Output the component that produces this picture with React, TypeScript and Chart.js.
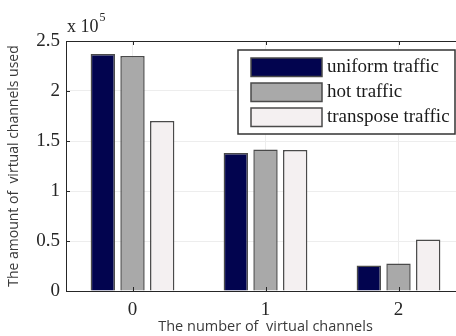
import React, { useEffect, useRef } from "react";
import { Chart, registerables } from "chart.js";

Chart.register(...registerables);

const categories = ["0", "1", "2"];
const uniformTraffic = [237000, 138000, 25500];
const hotTraffic = [235000, 141500, 27500];
const transposeTraffic = [170000, 141000, 51500];
const seriesNames = ["uniform traffic", "hot traffic", "transpose traffic"];
const seriesColors = ["#02044f", "#a9a9a9", "#f4f0f1"];
const yTicks = [0, 50000, 100000, 150000, 200000, 250000];

const SERIF = "'Liberation Serif', 'Times New Roman', serif";
const SANS = "'Open Sans', 'DejaVu Sans', sans-serif";

const framePlugin = {
  id: "frame",
  afterDraw(chart: any) {
    const ctx = chart.ctx;
    const { left, right, top, bottom } = chart.chartArea;
    ctx.save();
    ctx.strokeStyle = "#262626";
    ctx.lineWidth = 1;
    ctx.beginPath();
    ctx.moveTo(left, top + 0.5);
    ctx.lineTo(right, top + 0.5);
    ctx.stroke();
    const xs = chart.scales.x;
    categories.forEach((_, i) => {
      const px = Math.round(xs.getPixelForValue(i)) + 0.5;
      ctx.beginPath();
      ctx.moveTo(px, top);
      ctx.lineTo(px, top + 4);
      ctx.moveTo(px, bottom);
      ctx.lineTo(px, bottom - 4);
      ctx.stroke();
    });
    const ys = chart.scales.y;
    yTicks.forEach((v) => {
      const py = Math.round(ys.getPixelForValue(v)) + 0.5;
      ctx.beginPath();
      ctx.moveTo(left, py);
      ctx.lineTo(left + 4, py);
      ctx.stroke();
    });
    // exponent label
    ctx.fillStyle = "#262626";
    ctx.textBaseline = "alphabetic";
    ctx.textAlign = "left";
    ctx.font = `18px ${SERIF}`;
    ctx.fillText("x 10", 67, 32);
    const w = ctx.measureText("x 10").width;
    ctx.font = `12px ${SERIF}`;
    ctx.fillText("5", 67 + w + 1, 21);

    // legend
    const bx = 238, by = 50, bw = 217, bh = 84;
    ctx.fillStyle = "#ffffff";
    ctx.fillRect(bx, by, bw, bh);
    ctx.strokeStyle = "#333333";
    ctx.lineWidth = 1.5;
    ctx.strokeRect(bx, by, bw, bh);
    chart.data.datasets.forEach((ds: any, i: number) => {
      const sy = 58 + i * 25;
      ctx.fillStyle = ds.backgroundColor;
      ctx.fillRect(251, sy, 71, 18.5);
      ctx.strokeStyle = "#4a4a4a";
      ctx.lineWidth = 1.5;
      ctx.strokeRect(251, sy, 71, 18.5);
      ctx.fillStyle = "#1a1a1a";
      ctx.font = `19px ${SERIF}`;
      ctx.textBaseline = "middle";
      ctx.fillText(ds.label, 327, sy + 9.5);
    });
    ctx.restore();
  },
};

export default function App() {
  const ref = useRef<HTMLCanvasElement>(null);
  useEffect(() => {
    if (!ref.current) return;
    const chart = new Chart(ref.current, {
      type: "bar",
      data: {
        labels: categories,
        datasets: [uniformTraffic, hotTraffic, transposeTraffic].map((d, i) => ({
          label: seriesNames[i],
          data: d,
          backgroundColor: seriesColors[i],
          borderColor: "#4a4a4a",
          borderWidth: 1.5,
          categoryPercentage: 0.67,
          barPercentage: 0.82,
        })),
      },
      options: {
        responsive: false,
        animation: false,
        devicePixelRatio: 1,
        layout: { padding: { left: 0, top: 41, right: 5, bottom: 0 } },
        plugins: { legend: { display: false }, tooltip: { enabled: false } },
        scales: {
          x: {
            grid: { offset: false, color: "#ededed", drawTicks: false },
            border: { display: true, color: "#262626", width: 1 },
            ticks: { font: { family: SERIF, size: 19 }, color: "#262626", padding: 8 },
            title: {
              display: true,
              text: "The number of  virtual channels",
              font: { family: SANS, size: 14.5 },
              color: "#3a3a3a",
              padding: { top: 0, bottom: 0 },
            },
            afterFit(scale: any) {
              scale.height = 45;
            },
          },
          y: {
            min: 0,
            max: 250000,
            grid: { color: "#ededed", drawTicks: false },
            border: { display: true, color: "#262626", width: 1 },
            ticks: {
              stepSize: 50000,
              font: { family: SERIF, size: 19 },
              color: "#262626",
              padding: 6,
              callback: (v: any) => String(Number(v) / 100000),
            },
            title: {
              display: true,
              text: "The amount of  virtual channels used",
              font: { family: SANS, size: 14 },
              color: "#3a3a3a",
              padding: { top: 6, bottom: 0 },
            },
            afterFit(scale: any) {
              scale.width = 66;
            },
          },
        },
      },
      plugins: [framePlugin],
    });
    return () => chart.destroy();
  }, []);
  return (
    <div style={{ position: "fixed", left: 0, top: 0, width: 456, height: 336, overflow: "hidden", background: "#fff" }}>
      <canvas ref={ref} width={470} height={336} style={{ width: 470, height: 336, display: "block" }} />
    </div>
  );
}
